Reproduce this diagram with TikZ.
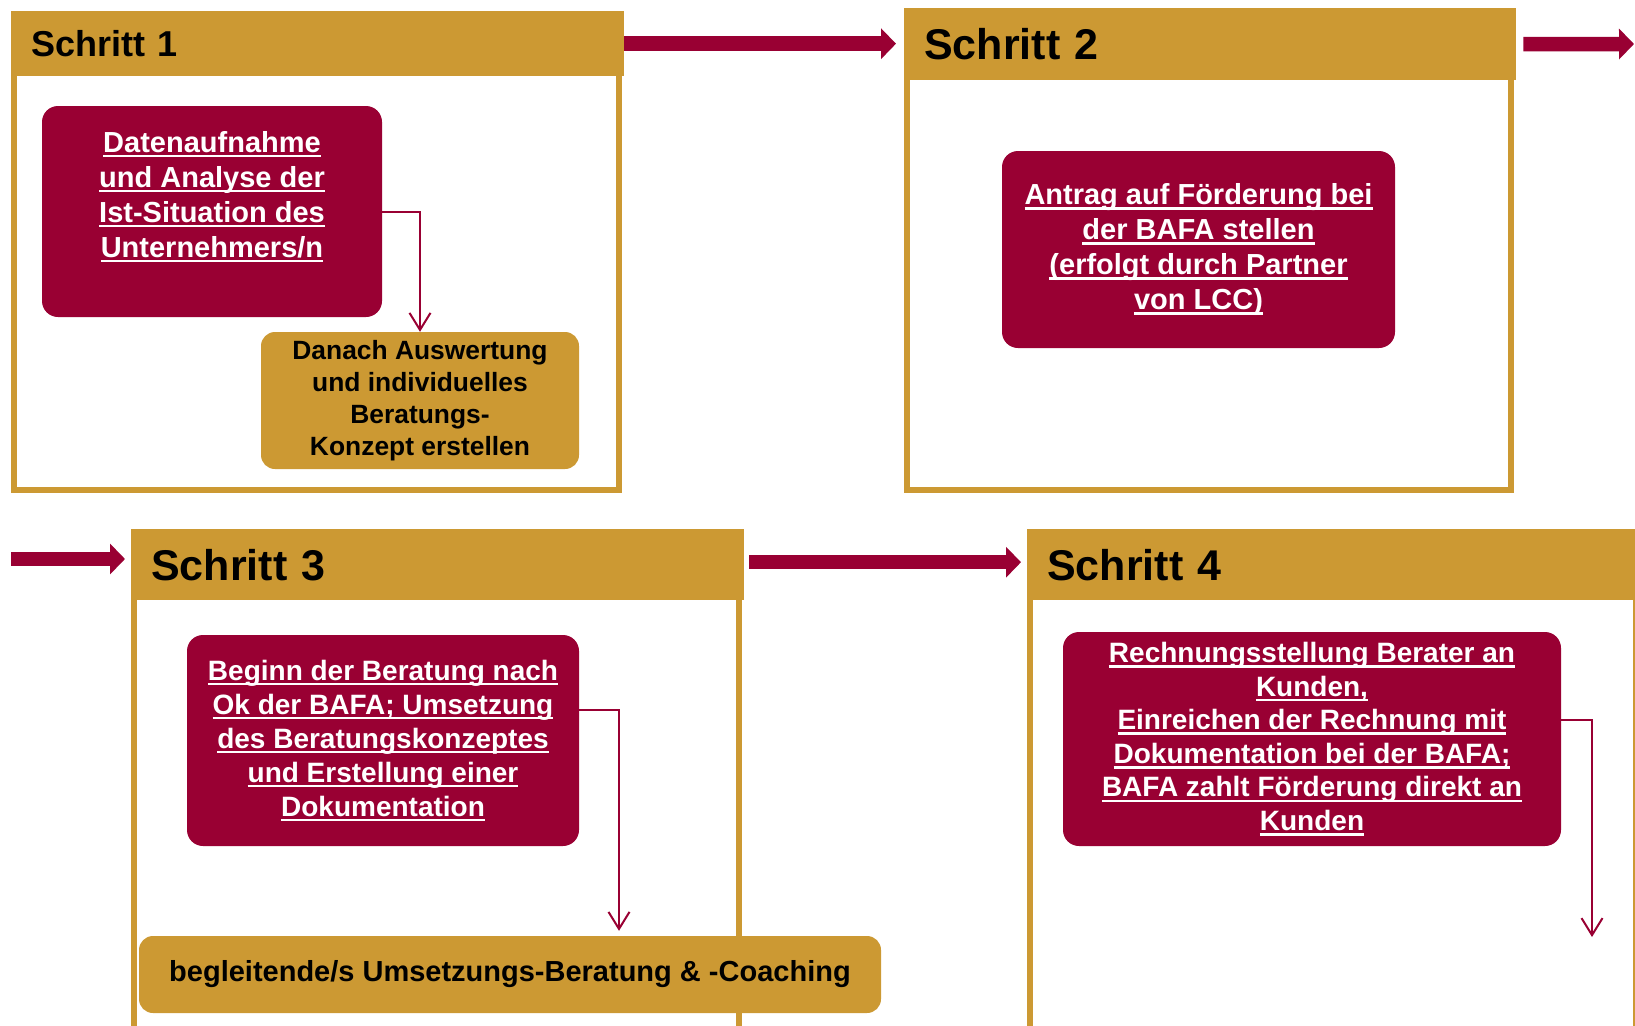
\documentclass[tikz,border=0pt]{standalone}
\usepackage{fontspec}
\setmainfont{Liberation Sans}
\usetikzlibrary{arrows.meta}

\definecolor{schrittgold}{HTML}{CC9933}
\definecolor{schrittred}{HTML}{990033}

\newsavebox\ulinebox
\newcommand\ulin[1]{\sbox\ulinebox{#1}\rlap{\rule[-5.3pt]{\wd\ulinebox}{2.7pt}}\usebox\ulinebox}

\tikzset{
	stephead/.style={fill=schrittgold, anchor=north west, inner sep=0pt, inner xsep=20pt, align=left},
	stepframe/.style={draw=schrittgold, line width=6pt},
	redbox/.style={fill=schrittred, rounded corners=16pt, text=white, align=center, inner sep=0pt},
	goldbox/.style={fill=schrittgold, rounded corners=14pt, text=black, align=center, inner sep=0pt},
	flow/.style={draw=schrittred, line width=2pt, -{Straight Barb[length=17pt,width=21pt]}},
	bigarrow/.style={draw=schrittred, line width=14.5pt, -{Triangle[length=15pt,width=30pt]}}
}

\begin{document}
\begin{tikzpicture}[x=1pt,y=-1pt]
				\useasboundingbox (0,0) rectangle (1635,1025);

				% frames
				\draw[stepframe] (14,60) rectangle (619,490);
				\draw[stepframe] (907,60) rectangle (1511,490);
				\draw[stepframe] (134,580) rectangle (739,1045);
				\draw[stepframe] (1030,580) rectangle (1636,1045);

				% headers
				\node[stephead, text width=573pt, minimum height=65pt, font=\bfseries\fontsize{36}{40}\selectfont] (h1) at (11,11) {Schritt 1};
				\node[stephead, text width=572pt, minimum height=72pt, font=\bfseries\fontsize{43}{48}\selectfont] (h2) at (904,8) {Schritt 2};
				\node[stephead, text width=573pt, minimum height=71pt, font=\bfseries\fontsize{43}{48}\selectfont] (h3) at (131,529) {Schritt 3};
				\node[stephead, text width=580pt, minimum height=71pt, font=\bfseries\fontsize{43}{48}\selectfont] (h4) at (1027,529) {Schritt 4};

				% Schritt 1
				\node[redbox, minimum width=340pt, minimum height=211pt, font=\bfseries\fontsize{29}{35}\selectfont] (b1) at (212,211.5)
					{\ulin{Datenaufnahme}\\\ulin{und Analyse der}\\\ulin{Ist-Situation des}\\\ulin{Unternehmers/n}\\\mbox{}};
				\node[goldbox, minimum width=318pt, minimum height=137pt, font=\bfseries\fontsize{26.4}{32}\selectfont] (g1) at (420,400.5)
					{Danach Auswertung\\und individuelles\\Beratungs-\\Konzept erstellen};

				% Schritt 2
				\node[redbox, minimum width=393pt, minimum height=197pt, font=\bfseries\fontsize{29}{35}\selectfont] (b2) at (1198.5,249.5)
					{\ulin{Antrag auf Förderung bei}\\\ulin{der BAFA stellen}\\\ulin{(erfolgt durch Partner}\\\ulin{von LCC)}};

				% Schritt 3
				\node[redbox, minimum width=392pt, minimum height=211pt, font=\bfseries\fontsize{28}{34}\selectfont] (b3) at (383,740.5)
					{\ulin{Beginn der Beratung nach}\\\ulin{Ok der BAFA; Umsetzung}\\\ulin{des Beratungskonzeptes}\\\ulin{und Erstellung einer}\\\ulin{Dokumentation}};
				\node[goldbox, minimum width=742pt, minimum height=77pt, font=\bfseries\fontsize{29}{34}\selectfont] (g3) at (510,974.5)
					{begleitende/s Umsetzungs-Beratung \& -Coaching};

				% Schritt 4
				\node[redbox, minimum width=498pt, minimum height=214pt, font=\bfseries\fontsize{28}{33.6}\selectfont] (b4) at (1312,739)
					{\ulin{Rechnungsstellung Berater an}\\\ulin{Kunden,}\\\ulin{Einreichen der Rechnung mit}\\\ulin{Dokumentation bei der BAFA;}\\\ulin{BAFA zahlt Förderung direkt an}\\\ulin{Kunden}};

				\coordinate (o2) at (1634,44);
				\coordinate (i3) at (11,559);
				\coordinate (e4) at (1592,937);

				% arrows between the steps
				\draw[bigarrow, shorten >=8pt] (h1.east) -- (h1.east -| h2.west);
				\draw[bigarrow, shorten <=7pt] (h2.east) -- (o2);
				\draw[bigarrow, shorten >=6pt] (i3) -- (i3 -| h3.west);
				\draw[bigarrow, shorten <=5pt, shorten >=6pt] ([yshift=2.5pt]h3.east) -- ([yshift=2.5pt]h3.east -| h4.west);

				% arrows inside the steps
				\draw[flow] (b1.east) -| (g1.north);
				\draw[flow] ([yshift=30.5pt]b3.east) -| ([xshift=109pt,yshift=5pt]g3.north);
				\draw[flow] ([yshift=19pt]b4.east) -| (e4);
			\end{tikzpicture}
\end{document}
